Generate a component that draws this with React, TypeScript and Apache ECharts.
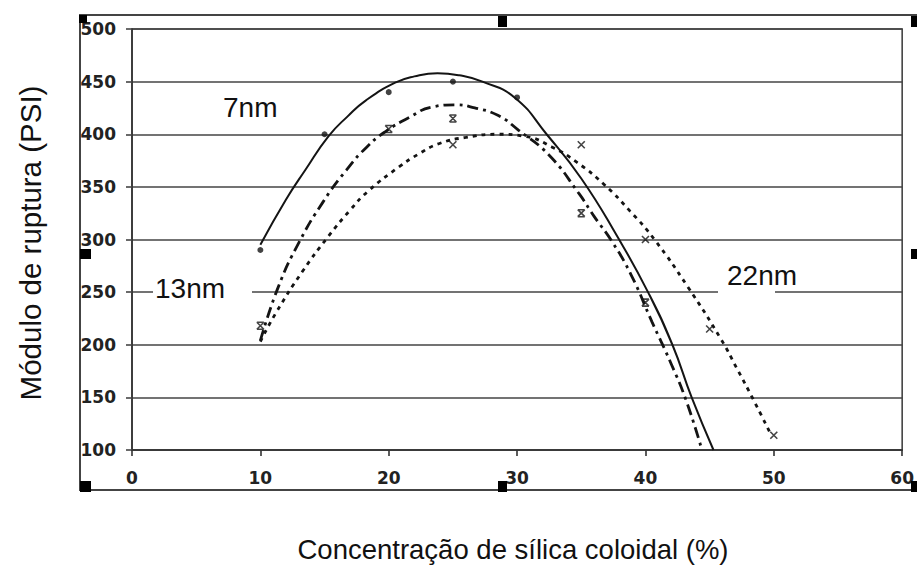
import React, { useEffect, useRef } from "react";
import * as echarts from "echarts";

// Fitted curves, [concentração %, módulo PSI]
const curve7nm: number[][] = [
  [10, 295], [12, 338], [13.5, 366], [15.3, 398], [16.8, 417], [18.2, 432],
  [20.5, 449], [22, 455], [23.8, 458], [25.5, 456], [27.3, 450], [29.8, 435],
  [32.3, 400], [35, 358], [37.8, 303], [40.2, 250], [42.1, 200], [43.6, 150],
  [45.3, 100],
];
const curve13nm: number[][] = [
  [10, 204], [11.4, 255], [13, 297], [14.9, 336], [16.7, 366], [18.3, 388],
  [19.8, 403], [21.6, 416], [23.4, 426], [25.2, 428], [26.7, 425], [28.5, 418],
  [30.1, 404], [32.5, 380], [34.8, 344], [36, 322], [37.4, 298], [38.9, 266],
  [40.5, 222], [42, 182], [43.2, 146], [44.4, 100],
];
const curve22nm: number[][] = [
  [10, 203], [11.2, 230], [13.3, 270], [15.3, 303], [17, 328], [18.4, 346],
  [20.8, 369], [22.3, 381], [23.9, 391], [26, 397], [28.5, 400], [30.6, 398],
  [32.7, 388], [34.7, 373], [36.8, 352], [38.8, 327], [40.7, 300], [43.3, 255],
  [45.9, 205], [47.1, 178], [48.4, 148], [49.8, 114],
];

// Measured points
const points7nm: number[][] = [[10, 290], [15, 400], [20, 440], [25, 450], [30, 435]];
const points13nm: number[][] = [[10, 218], [20, 405], [25, 415], [35, 325], [40, 240]];
const points22nm: number[][] = [[25, 390], [35, 390], [40, 300], [45, 215], [50, 114]];

// Axis ranges and captions
const xRange = [0, 60, 10];
const yRange = [100, 500, 50];
const xTitle = "Concentração de sílica coloidal (%)";
const yTitle = "Módulo de ruptura (PSI)";
const curveLabels = ["7nm", "13nm", "22nm"];

const SANS = 'Arial, "Liberation Sans", sans-serif';
const TICK_FONT = '"DejaVu Sans", sans-serif';
const INK = "#141414";
const GRID = "#444";

const crossSymbol = "path://M0,0L10,10M10,0L0,10";
const barCrossSymbol = "path://M0,0L10,0M0,10L10,10M0,0L10,10M10,0L0,10";

function handle(x: number, y: number, w: number, h: number) {
  return { type: "rect", shape: { x, y, width: w, height: h }, style: { fill: "#000" }, z: 100 };
}

export default function App() {
  const ref = useRef<HTMLDivElement>(null);

  useEffect(() => {
    if (!ref.current) return;
    const chart = echarts.init(ref.current, null, { renderer: "svg" });
    chart.setOption({
      animation: false,
      backgroundColor: "#fff",
      grid: {
        left: 132,
        top: 29,
        width: 776,
        height: 421,
        show: true,
        borderColor: GRID,
        borderWidth: 1.6,
      },
      xAxis: {
        type: "value",
        min: xRange[0],
        max: xRange[1],
        interval: xRange[2],
        axisLine: { show: true, onZero: false, lineStyle: { color: "#333", width: 1.6 } },
        axisTick: { show: true, length: 6, lineStyle: { color: "#333", width: 1.6 } },
        splitLine: { show: false },
        axisLabel: {
          color: "#222",
          fontFamily: TICK_FONT,
          fontWeight: "bold",
          fontSize: 17,
          margin: 19,
        },
      },
      yAxis: {
        type: "value",
        min: yRange[0],
        max: yRange[1],
        interval: yRange[2],
        axisLine: { show: true, lineStyle: { color: "#333", width: 1.6 } },
        axisTick: { show: true, length: 6, lineStyle: { color: GRID, width: 1.6 } },
        splitLine: { show: true, lineStyle: { color: GRID, width: 1.6 } },
        axisLabel: {
          color: "#222",
          fontFamily: TICK_FONT,
          fontWeight: "bold",
          fontSize: 17,
          margin: 16,
        },
      },
      series: [
        {
          name: curveLabels[0],
          type: "line",
          data: curve7nm,
          smooth: 0.5,
          showSymbol: false,
          lineStyle: { color: INK, width: 2 },
          z: 3,
        },
        {
          name: curveLabels[1],
          type: "line",
          data: curve13nm,
          smooth: 0.5,
          showSymbol: false,
          lineStyle: { color: INK, width: 2.8, type: [11, 5, 3, 5] },
          z: 3,
        },
        {
          name: curveLabels[2],
          type: "line",
          data: curve22nm,
          smooth: 0.5,
          showSymbol: false,
          lineStyle: { color: INK, width: 2.8, type: [4, 5] },
          z: 3,
        },
        {
          type: "scatter",
          data: points7nm,
          symbol: "circle",
          symbolSize: 6,
          itemStyle: { color: INK },
          z: 4,
        },
        {
          type: "scatter",
          data: points13nm,
          symbol: barCrossSymbol,
          symbolSize: 7,
          itemStyle: { color: INK, borderColor: INK, borderWidth: 1.6 },
          z: 4,
        },
        {
          type: "scatter",
          data: points22nm,
          symbol: crossSymbol,
          symbolSize: 7,
          itemStyle: { color: INK, borderColor: INK, borderWidth: 1.6 },
          z: 4,
        },
      ],
      graphic: [
        // chart-area frame, running off the right edge
        {
          type: "rect",
          shape: { x: 80, y: 15, width: 870, height: 475 },
          style: { fill: "none", stroke: "#444", lineWidth: 2 },
          z: 90,
        },
        handle(79, 15, 8, 8),
        handle(498, 16, 9, 11),
        handle(911, 16, 9, 11),
        handle(80, 249, 11, 10),
        handle(911, 249, 9, 10),
        handle(80, 481, 11, 11),
        handle(498, 481, 9, 11),
        handle(911, 481, 9, 11),
        // blank breaks in the 250 line behind the labels
        { type: "rect", shape: { x: 153, y: 287, width: 99, height: 10 }, style: { fill: "#fff" }, z: 50 },
        { type: "rect", shape: { x: 718, y: 287, width: 57, height: 10 }, style: { fill: "#fff" }, z: 50 },
        {
          type: "text",
          x: 223,
          y: 107,
          style: { text: curveLabels[0], font: `28px ${SANS}`, fill: "#111", verticalAlign: "middle" },
          z: 60,
        },
        {
          type: "text",
          x: 155,
          y: 288,
          style: { text: curveLabels[1], font: `28px ${SANS}`, fill: "#111", verticalAlign: "middle" },
          z: 60,
        },
        {
          type: "text",
          x: 727,
          y: 275,
          style: { text: curveLabels[2], font: `28px ${SANS}`, fill: "#111", verticalAlign: "middle" },
          z: 60,
        },
        {
          type: "text",
          x: 513,
          y: 549,
          style: { text: xTitle, font: `27.5px ${SANS}`, fill: "#111", align: "center", verticalAlign: "middle" },
          z: 60,
        },
        {
          type: "text",
          x: 30,
          y: 243,
          rotation: Math.PI / 2,
          style: { text: yTitle, font: `29.5px ${SANS}`, fill: "#111", align: "center", verticalAlign: "middle" },
          z: 60,
        },
      ],
    });
    return () => chart.dispose();
  }, []);

  return (
    <div
      ref={ref}
      style={{ position: "fixed", left: 0, top: 0, width: 917, height: 565, background: "#fff" }}
    />
  );
}
